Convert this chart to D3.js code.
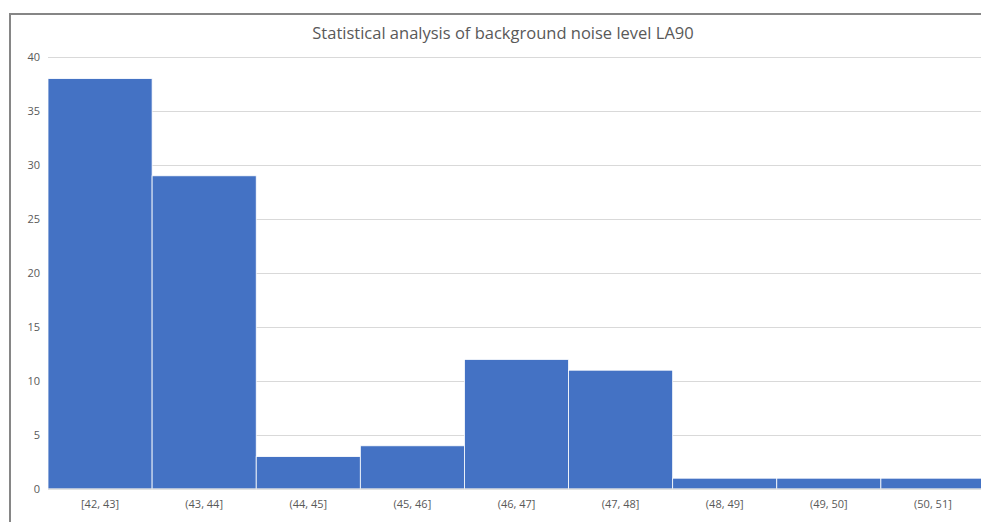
<!DOCTYPE html>
<html>
<head>
<meta charset="utf-8">
<script src="https://cdn.jsdelivr.net/npm/d3@7"></script>
<style>
  html, body { margin: 0; padding: 0; background: #fff; }
  svg { display: block; }
  text { font-family: "Open Sans", "Noto Sans", sans-serif; }
</style>
</head>
<body>
<svg id="chart" width="981" height="522"></svg>
<script>
// Histogram of LA90 background noise level (dB) counts per 1 dB bin
const bins = ["[42, 43]", "(43, 44]", "(44, 45]", "(45, 46]", "(46, 47]", "(47, 48]", "(48, 49]", "(49, 50]", "(50, 51]"];
const counts = [38, 29, 3, 4, 12, 11, 1, 1, 1];
const yTicks = [0, 5, 10, 15, 20, 25, 30, 35, 40];
const title = "Statistical analysis of background noise level LA90";

const svg = d3.select("#chart");
const plot = { left: 48, right: 985, top: 57, bottom: 489 };

// Chart frame
svg.append("rect")
  .attr("x", 10).attr("y", 14)
  .attr("width", 1000).attr("height", 560)
  .attr("fill", "#fff")
  .attr("stroke", "#868686")
  .attr("stroke-width", 2);

const x = d3.scaleBand().domain(bins).range([plot.left, plot.right]).paddingInner(0).paddingOuter(0);
const y = d3.scaleLinear().domain([0, 40]).range([plot.bottom, plot.top]);

// Gridlines and y labels
const yAxis = d3.axisLeft(y).tickValues(yTicks).tickSize(-(plot.right - plot.left)).tickPadding(8);
const gy = svg.append("g").attr("transform", `translate(${plot.left},0)`).call(yAxis);
gy.select(".domain").remove();
gy.selectAll(".tick line").attr("stroke", "#d9d9d9").attr("stroke-width", 1);
gy.selectAll(".tick text")
  .attr("fill", "#595959")
  .style("font-size", "11px");

// Bars
svg.append("g").selectAll("rect")
  .data(counts)
  .join("rect")
  .attr("x", (d, i) => x(bins[i]))
  .attr("y", d => y(d))
  .attr("width", x.bandwidth())
  .attr("height", d => y(0) - y(d))
  .attr("fill", "#4472c4")
  .attr("stroke", "#ffffff")
  .attr("stroke-width", 0.8);

// Baseline
svg.append("line")
  .attr("x1", plot.left).attr("x2", plot.right)
  .attr("y1", y(0)).attr("y2", y(0))
  .attr("stroke", "#d9d9d9");

// X labels
const xAxis = d3.axisBottom(x).tickSize(0).tickPadding(11);
const gx = svg.append("g").attr("transform", `translate(0,${plot.bottom})`).call(xAxis);
gx.select(".domain").remove();
gx.selectAll(".tick text")
  .attr("fill", "#595959")
  .style("font-size", "11px");

// Title
svg.append("text")
  .attr("x", 503).attr("y", 39)
  .attr("text-anchor", "middle")
  .attr("fill", "#595959")
  .style("font-size", "16.5px")
  .text(title);
</script>
</body>
</html>
